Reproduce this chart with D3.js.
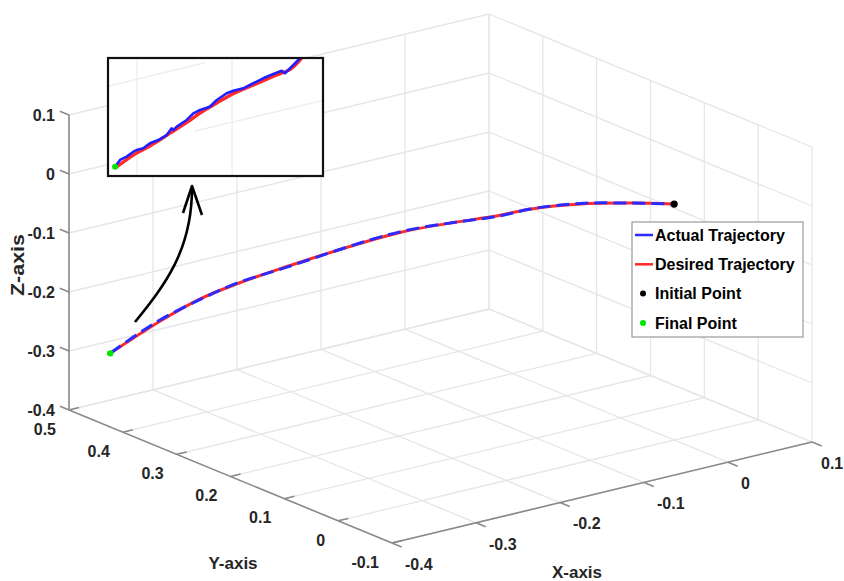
<!DOCTYPE html>
<html>
<head>
<meta charset="utf-8">
<script src="https://cdn.jsdelivr.net/npm/d3@7"></script>
<style>
  body { margin: 0; background: #fff; }
  text { font-family: "Liberation Sans", Arial, sans-serif; font-weight: bold; }
</style>
</head>
<body>
<svg width="844" height="581"></svg>
<script>
// axis ticks
var xTicks = [-0.4, -0.3, -0.2, -0.1, 0, 0.1];
var yTicks = [-0.1, 0, 0.1, 0.2, 0.3, 0.4, 0.5];
var zTicks = [-0.4, -0.3, -0.2, -0.1, 0, 0.1];

// desired trajectory (3D), from final point to initial point
var desiredX = [-0.383, -0.341, -0.306, -0.276, -0.236, -0.147, -0.079, -0.063, -0.035, -0.021, 0.000];
var desiredY = [0.45, 0.42, 0.40, 0.38, 0.36, 0.28, 0.20, 0.17, 0.12, 0.05, 0.00];
var desiredZ = [-0.291, -0.238, -0.205, -0.183, -0.163, -0.103, -0.067, -0.051, -0.033, -0.010, 0.000];

// actual trajectory (3D)
var actualX = [-0.383, -0.362, -0.341, -0.306, -0.277, -0.236, -0.147, -0.079, -0.062, -0.035, -0.021, 0.000];
var actualY = [0.45, 0.435, 0.42, 0.40, 0.38, 0.36, 0.28, 0.20, 0.17, 0.12, 0.05, 0.00];
var actualZ = [-0.291, -0.262, -0.236, -0.206, -0.182, -0.164, -0.102, -0.068, -0.051, -0.032, -0.010, 0.000];

var initialPoint = [0, 0, 0];
var finalPoint = [-0.383, 0.45, -0.291];

// zoomed inset (percent of inset box)
var insetActualU = [3.3, 5.6, 8.7, 11.8, 13.3, 16.4, 19.5, 23.4, 27.3, 29.6, 30.4, 32.0, 36.6, 39.7, 42.8, 47.4, 50.6, 55.2, 58.3, 62.9, 67.6, 72.2, 76.9, 80.8, 82.3, 84.7, 88.5, 90.2];
var insetActualV = [7.9, 13.6, 16.4, 20.6, 22.0, 23.5, 27.7, 30.5, 34.7, 40.4, 39.0, 41.8, 47.5, 53.1, 55.9, 58.7, 64.4, 70.1, 72.3, 74.3, 78.6, 82.8, 86.4, 89.2, 87.0, 91.3, 98.3, 101.7];
var insetDesiredU = [3.3, 11.8, 19.5, 27.3, 36.6, 42.8, 50.6, 58.3, 67.6, 76.9, 84.7, 90.2];
var insetDesiredV = [7.9, 18.8, 26.5, 35.5, 46.5, 54.5, 63, 70.8, 78, 85.5, 91.5, 101.7];
var insetGridU = [13.5, 57.7];

var legendNames = ["Actual Trajectory", "Desired Trajectory", "Initial Point", "Final Point"];
var legendColors = ["#2b2bff", "#ff2b2b", "#000000", "#00e600"];

var svg = d3.select("svg");

// 3D -> screen projection built on linear scales
var xS = d3.scaleLinear().domain([-0.4, 0.1]).range([0, 1]),
    yS = d3.scaleLinear().domain([-0.1, 0.5]).range([0, 1]),
    zS = d3.scaleLinear().domain([-0.4, 0.1]).range([0, 1]);
var O = [392, 543], EX = [420, -101], EY = [-323, -133], EZ = [0, -295];
function P(x, y, z) {
  var a = xS(x), b = yS(y), c = zS(z);
  return [O[0] + a * EX[0] + b * EY[0] + c * EZ[0],
          O[1] + a * EX[1] + b * EY[1] + c * EZ[1]];
}

var segs = [];
function seg(p, q) { segs.push([P.apply(null, p), P.apply(null, q)]); }
// floor
xTicks.forEach(function(x) { seg([x, -0.1, -0.4], [x, 0.5, -0.4]); });
yTicks.forEach(function(y) { seg([-0.4, y, -0.4], [0.1, y, -0.4]); });
// back wall y = 0.5
xTicks.forEach(function(x) { seg([x, 0.5, -0.4], [x, 0.5, 0.1]); });
zTicks.forEach(function(z) { seg([-0.4, 0.5, z], [0.1, 0.5, z]); });
// side wall x = 0.1
yTicks.forEach(function(y) { seg([0.1, y, -0.4], [0.1, y, 0.1]); });
zTicks.forEach(function(z) { seg([0.1, -0.1, z], [0.1, 0.5, z]); });

svg.append("g").selectAll("line")
  .data(segs).enter().append("line")
  .attr("x1", function(d) { return d[0][0]; }).attr("y1", function(d) { return d[0][1]; })
  .attr("x2", function(d) { return d[1][0]; }).attr("y2", function(d) { return d[1][1]; })
  .style("stroke", "#e6e6e6").style("stroke-width", 1.3);

// axes
var axisColor = "#8a8a8a", labelColor = "#262626";
var axes = [
  [[-0.4, 0.5, -0.4], [-0.4, 0.5, 0.1]],
  [[-0.4, -0.1, -0.4], [-0.4, 0.5, -0.4]],
  [[-0.4, -0.1, -0.4], [0.1, -0.1, -0.4]]
];
var ticks = [];
zTicks.forEach(function(z) { ticks.push([[-0.4, 0.5, z], [-0.4, 0.517, z]]); });
yTicks.forEach(function(y) { ticks.push([[-0.4, y, -0.4], [-0.388, y, -0.4]]); });
xTicks.forEach(function(x) { ticks.push([[x, -0.1, -0.4], [x, -0.118, -0.4]]); });
svg.append("g").selectAll("line")
  .data(axes.concat(ticks)).enter().append("line")
  .each(function(d) {
    var a = P.apply(null, d[0]), b = P.apply(null, d[1]);
    d3.select(this).attr("x1", a[0]).attr("y1", a[1]).attr("x2", b[0]).attr("y2", b[1]);
  })
  .style("stroke", axisColor).style("stroke-width", 1.6);

var lab = svg.append("g").style("fill", labelColor).style("font-size", "16px");
lab.selectAll(".zl").data(zTicks).enter().append("text")
  .attr("x", function(d) { return P(-0.4, 0.5, d)[0] - 14; })
  .attr("y", function(d) { return P(-0.4, 0.5, d)[1]; })
  .attr("dy", "0.36em").attr("text-anchor", "end")
  .text(function(d) { return String(d); });
lab.selectAll(".yl").data(yTicks).enter().append("text")
  .attr("x", function(d) { return P(-0.4, d, -0.4)[0] - 13; })
  .attr("y", function(d) { return P(-0.4, d, -0.4)[1] + 19; })
  .attr("dy", "0.36em").attr("text-anchor", "end")
  .text(function(d) { return String(d); });
lab.selectAll(".xl").data(xTicks).enter().append("text")
  .attr("x", function(d) { return Math.min(P(d, -0.1, -0.4)[0] + 13, 821); })
  .attr("y", function(d) { return P(d, -0.1, -0.4)[1] + 21; })
  .attr("dy", "0.36em").attr("text-anchor", "start")
  .text(function(d) { return String(d); });

lab.append("text").attr("transform", "translate(24,265) rotate(-90)")
  .attr("text-anchor", "middle").style("font-size", "18px")
  .attr("textLength", 62).attr("lengthAdjust", "spacingAndGlyphs").text("Z-axis");
lab.append("text").attr("x", 233).attr("y", 569).attr("text-anchor", "middle")
  .style("font-size", "17px").text("Y-axis");
lab.append("text").attr("x", 577).attr("y", 578).attr("text-anchor", "middle")
  .style("font-size", "17px").text("X-axis");

// trajectories
var line = d3.line().curve(d3.curveCatmullRom);
var desiredPts = desiredX.map(function(x, i) { return P(x, desiredY[i], desiredZ[i]); });
var actualPts = actualX.map(function(x, i) { return P(x, actualY[i], actualZ[i]); });
svg.append("path").attr("d", line(desiredPts))
  .style("fill", "none").style("stroke", legendColors[1]).style("stroke-width", 3);
svg.append("path").attr("d", line(actualPts))
  .style("fill", "none").style("stroke", legendColors[0]).style("stroke-width", 3)
  .style("stroke-dasharray", "13,6");

var ip = P.apply(null, initialPoint), fp = P.apply(null, finalPoint);
svg.append("circle").attr("cx", ip[0]).attr("cy", ip[1]).attr("r", 3.6).style("fill", "#000");
svg.append("circle").attr("cx", fp[0]).attr("cy", fp[1]).attr("r", 3.2).style("fill", legendColors[3]);

// inset
var inset = { x: 108, y: 58, w: 215, h: 118 };
var iX = d3.scaleLinear().domain([0, 100]).range([inset.x, inset.x + inset.w]);
var iY = d3.scaleLinear().domain([0, 100]).range([inset.y + inset.h, inset.y]);
svg.append("clipPath").attr("id", "insetClip").append("rect")
  .attr("x", inset.x).attr("y", inset.y).attr("width", inset.w).attr("height", inset.h);
svg.append("rect").attr("x", inset.x).attr("y", inset.y).attr("width", inset.w).attr("height", inset.h)
  .style("fill", "#fff");
var ig = svg.append("g").attr("clip-path", "url(#insetClip)");
ig.selectAll(".ig").data(insetGridU).enter().append("line")
  .attr("x1", function(d) { return iX(d); }).attr("x2", function(d) { return iX(d); })
  .attr("y1", iY(0)).attr("y2", iY(100))
  .style("stroke", "#ececec").style("stroke-width", 1.2);
ig.append("line").attr("x1", iX(0)).attr("y1", iY(76)).attr("x2", iX(45)).attr("y2", iY(96))
  .style("stroke", "#efefef").style("stroke-width", 1.5);
ig.append("line").attr("x1", iX(40)).attr("y1", iY(38)).attr("x2", iX(100)).attr("y2", iY(64))
  .style("stroke", "#efefef").style("stroke-width", 1.5);
var iline = d3.line().curve(d3.curveLinear);
ig.append("path").attr("d", d3.line().curve(d3.curveCatmullRom)(insetDesiredU.map(function(u, i) { return [iX(u) + 0.8, iY(insetDesiredV[i]) + 0.8]; })))
  .style("fill", "none").style("stroke", legendColors[1]).style("stroke-width", 3.4);
ig.append("path").attr("d", iline(insetActualU.map(function(u, i) { return [iX(u), iY(insetActualV[i])]; })))
  .style("fill", "none").style("stroke", "#2020ff").style("stroke-width", 2.6)
  .style("stroke-linejoin", "round");
ig.append("circle").attr("cx", iX(insetActualU[0])).attr("cy", iY(insetActualV[0])).attr("r", 3)
  .style("fill", legendColors[3]);
svg.append("rect").attr("x", inset.x).attr("y", inset.y).attr("width", inset.w).attr("height", inset.h)
  .style("fill", "none").style("stroke", "#111").style("stroke-width", 2.2);

// arrow pointing to inset
svg.append("path").attr("d", "M135,322 C165,285 192,250 192,188")
  .style("fill", "none").style("stroke", "#000").style("stroke-width", 2.6);
svg.append("path").attr("d", "M183,213 L192,186 L202,215")
  .style("fill", "none").style("stroke", "#000").style("stroke-width", 2.6)
  .style("stroke-linejoin", "round");

// legend
var lg = svg.append("g").attr("transform", "translate(632,222)");
lg.append("rect").attr("width", 171).attr("height", 115)
  .style("fill", "#fff").style("stroke", "#999").style("stroke-width", 1.2);
var item = lg.selectAll(".item").data(legendNames).enter().append("g")
  .attr("transform", function(d, i) { return "translate(0," + (13 + i * 29.3) + ")"; });
item.filter(function(d, i) { return i < 2; }).append("line")
  .attr("x1", 3).attr("x2", 21).attr("y1", 0).attr("y2", 0)
  .style("stroke", function(d, i) { return legendColors[i]; }).style("stroke-width", 2.5);
item.filter(function(d, i) { return i >= 2; }).append("circle")
  .attr("cx", 11).attr("cy", 0).attr("r", 3)
  .style("fill", function(d) { return legendColors[legendNames.indexOf(d)]; });
item.append("text").attr("x", 23).attr("dy", "0.36em")
  .style("font-size", "16px").style("fill", "#000")
  .text(function(d) { return d; });
</script>
</body>
</html>
